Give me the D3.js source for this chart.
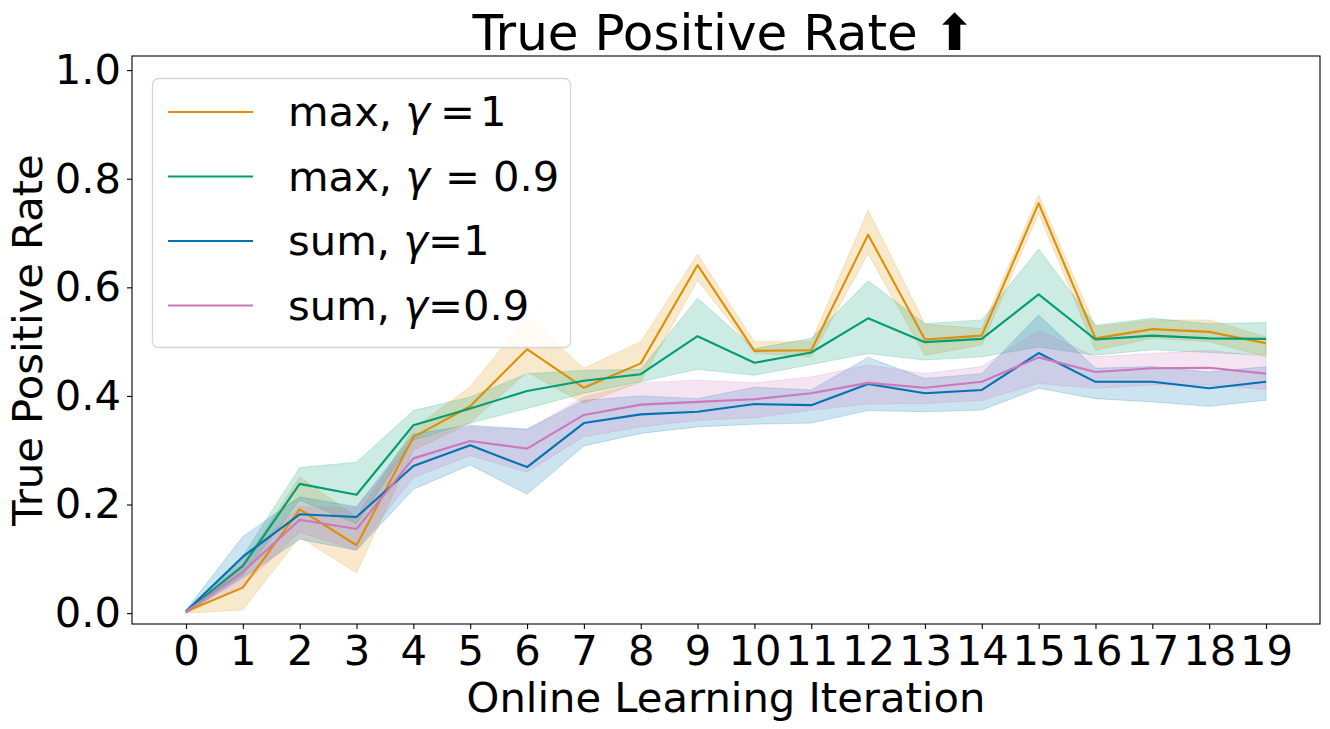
<!DOCTYPE html>
<html>
<head>
<meta charset="utf-8">
<script src="https://cdn.jsdelivr.net/npm/d3@7"></script>
<style>
  body { margin: 0; background: #fff; }
  text { font-family: "DejaVu Sans", sans-serif; fill: #000; }
</style>
</head>
<body>
<div id="chart"></div>
<script>
// iterations 0..19
const iterations = d3.range(20);
const tickLabels = iterations.map(String);
const yTicks = [0, 0.2, 0.4, 0.6, 0.8, 1.0];

// max, gamma=1 (orange)
const maxG1 = [0.003, 0.047, 0.191, 0.125, 0.324, 0.381, 0.486, 0.415, 0.460, 0.641, 0.483, 0.484, 0.697, 0.504, 0.511, 0.755, 0.506, 0.523, 0.518, 0.497];
const maxG1Lo = [0.000, 0.006, 0.140, 0.074, 0.300, 0.350, 0.444, 0.386, 0.426, 0.613, 0.479, 0.472, 0.662, 0.475, 0.494, 0.736, 0.484, 0.506, 0.500, 0.472];
const maxG1Hi = [0.006, 0.090, 0.251, 0.177, 0.340, 0.417, 0.546, 0.451, 0.500, 0.661, 0.500, 0.500, 0.742, 0.532, 0.524, 0.770, 0.527, 0.540, 0.540, 0.509];

// max, gamma=0.9 (green)
const maxG09 = [0.003, 0.087, 0.238, 0.218, 0.346, 0.377, 0.409, 0.428, 0.440, 0.510, 0.461, 0.480, 0.543, 0.499, 0.505, 0.587, 0.504, 0.511, 0.506, 0.505];
const maxG09Lo = [0.000, 0.070, 0.208, 0.165, 0.319, 0.350, 0.377, 0.405, 0.426, 0.449, 0.438, 0.458, 0.478, 0.466, 0.472, 0.490, 0.475, 0.485, 0.480, 0.475];
const maxG09Hi = [0.006, 0.105, 0.268, 0.278, 0.373, 0.398, 0.441, 0.447, 0.449, 0.580, 0.487, 0.506, 0.612, 0.533, 0.540, 0.671, 0.530, 0.543, 0.533, 0.535];

// sum, gamma=1 (blue)
const sumG1 = [0.003, 0.104, 0.182, 0.177, 0.271, 0.309, 0.269, 0.350, 0.366, 0.371, 0.385, 0.383, 0.422, 0.405, 0.411, 0.479, 0.426, 0.426, 0.414, 0.426];
const sumG1Lo = [0.000, 0.065, 0.136, 0.116, 0.228, 0.273, 0.219, 0.308, 0.331, 0.343, 0.348, 0.350, 0.373, 0.371, 0.374, 0.414, 0.395, 0.389, 0.381, 0.392];
const sumG1Hi = [0.006, 0.141, 0.214, 0.196, 0.330, 0.346, 0.339, 0.392, 0.400, 0.395, 0.416, 0.411, 0.471, 0.432, 0.441, 0.549, 0.451, 0.454, 0.444, 0.454];

// sum, gamma=0.9 (pink)
const sumG09 = [0.003, 0.076, 0.172, 0.155, 0.285, 0.317, 0.303, 0.365, 0.384, 0.389, 0.394, 0.405, 0.424, 0.415, 0.426, 0.471, 0.444, 0.451, 0.452, 0.441];
const sumG09Lo = [0.000, 0.050, 0.149, 0.116, 0.250, 0.290, 0.260, 0.325, 0.343, 0.355, 0.360, 0.374, 0.385, 0.386, 0.392, 0.423, 0.414, 0.420, 0.420, 0.412];
const sumG09Hi = [0.006, 0.100, 0.196, 0.195, 0.320, 0.343, 0.338, 0.398, 0.424, 0.429, 0.424, 0.435, 0.457, 0.441, 0.454, 0.521, 0.472, 0.478, 0.484, 0.472];

const series = [
  {name: "max1", color: "#de8f05", mean: maxG1, lo: maxG1Lo, hi: maxG1Hi},
  {name: "max09", color: "#029e73", mean: maxG09, lo: maxG09Lo, hi: maxG09Hi},
  {name: "sum1", color: "#0173b2", mean: sumG1, lo: sumG1Lo, hi: sumG1Hi},
  {name: "sum09", color: "#cc78bc", mean: sumG09, lo: sumG09Lo, hi: sumG09Hi}
];

const width = 1330, height = 729;
const fs = 41.7;

const svg = d3.select("#chart").append("svg")
  .attr("width", width)
  .attr("height", height)
  .attr("viewBox", [0, 0, width, height]);

svg.append("rect").attr("width", width).attr("height", height).attr("fill", "#fff");

const x = d3.scaleLinear().domain([-0.95, 19.95]).range([132, 1320]);
const y = d3.scaleLinear().domain([-0.02, 1.026]).range([624, 56]);

// bands first, then lines on top
const area = d3.area()
  .x((d, i) => x(iterations[i]))
  .y0(d => y(d[0]))
  .y1(d => y(d[1]));

const line = d3.line()
  .x((d, i) => x(iterations[i]))
  .y(d => y(d));

svg.append("g").selectAll("path")
  .data(series)
  .join("path")
  .attr("d", s => area(s.lo.map((v, i) => [v, s.hi[i]])))
  .attr("fill", s => s.color)
  .attr("fill-opacity", 0.2)
  .attr("stroke", s => s.color)
  .attr("stroke-opacity", 0.2)
  .attr("stroke-width", 1);

svg.append("g").selectAll("path")
  .data(series)
  .join("path")
  .attr("d", s => line(s.mean))
  .attr("fill", "none")
  .attr("stroke", s => s.color)
  .attr("stroke-width", 2.1)
  .attr("stroke-linejoin", "round");

// axes
const xAxis = svg.append("g")
  .attr("transform", `translate(0,${y.range()[0]})`)
  .call(d3.axisBottom(x).tickValues(iterations).tickFormat((d, i) => tickLabels[i]).tickSize(5).tickPadding(6));

const yAxis = svg.append("g")
  .attr("transform", `translate(${x.range()[0]},0)`)
  .call(d3.axisLeft(y).tickValues(yTicks).tickFormat(d3.format(".1f")).tickSize(5).tickPadding(6));

[xAxis, yAxis].forEach(a => {
  a.select(".domain").remove();
  a.selectAll("line").attr("stroke", "#000").attr("stroke-width", 1.1);
  a.selectAll("text").attr("font-size", fs).attr("font-family", "DejaVu Sans").attr("fill", "#000");
});

// frame
svg.append("rect")
  .attr("x", x.range()[0]).attr("y", y.range()[1])
  .attr("width", x.range()[1] - x.range()[0])
  .attr("height", y.range()[0] - y.range()[1])
  .attr("fill", "none").attr("stroke", "#000").attr("stroke-width", 1.1);

// labels
svg.append("text")
  .attr("x", (x.range()[0] + x.range()[1]) / 2)
  .attr("y", 712)
  .attr("text-anchor", "middle")
  .attr("font-size", fs)
  .text("Online Learning Iteration");

svg.append("text")
  .attr("transform", `translate(${42},${(y.range()[0] + y.range()[1]) / 2}) rotate(-90)`)
  .attr("text-anchor", "middle")
  .attr("font-size", fs)
  .text("True Positive Rate");

svg.append("text")
  .attr("x", (x.range()[0] + x.range()[1]) / 2 - 2)
  .attr("y", 50)
  .attr("text-anchor", "middle")
  .attr("font-size", 50)
  .text("True Positive Rate \u2B06");

// legend: text pieces with small gaps like mathtext spacing
const legendItems = [
  {pre: "max, ", eq: "=", val: "1", g1: 10, g2: 5},
  {pre: "max, ", eq: "=", val: "0.9", g1: 15, g2: 13},
  {pre: "sum, ", eq: "=", val: "1", g1: 0, g2: 0},
  {pre: "sum, ", eq: "=", val: "0.9", g1: 0, g2: 0}
];

const legend = svg.append("g");
legend.append("rect")
  .attr("x", 152.5).attr("y", 78.5)
  .attr("width", 418).attr("height", 269)
  .attr("rx", 6)
  .attr("fill", "#fff").attr("fill-opacity", 0.8)
  .attr("stroke", "#d6d6d6").attr("stroke-width", 1.3);

const rows = legend.selectAll("g.row")
  .data(series)
  .join("g")
  .attr("class", "row")
  .attr("transform", (d, i) => `translate(0,${112 + i * 64.5})`);

rows.append("line")
  .attr("x1", 168).attr("x2", 253)
  .attr("stroke", d => d.color).attr("stroke-width", 2.1);

rows.append("text")
  .attr("x", 288)
  .attr("y", 14)
  .attr("font-size", fs)
  .each(function(d, i) {
    const it = legendItems[i];
    const t = d3.select(this);
    t.append("tspan").text(it.pre);
    t.append("tspan").attr("font-style", "italic").text("\u03B3");
    t.append("tspan").attr("dx", it.g1).text(it.eq);
    t.append("tspan").attr("dx", it.g2).text(it.val);
  });
</script>
</body>
</html>
